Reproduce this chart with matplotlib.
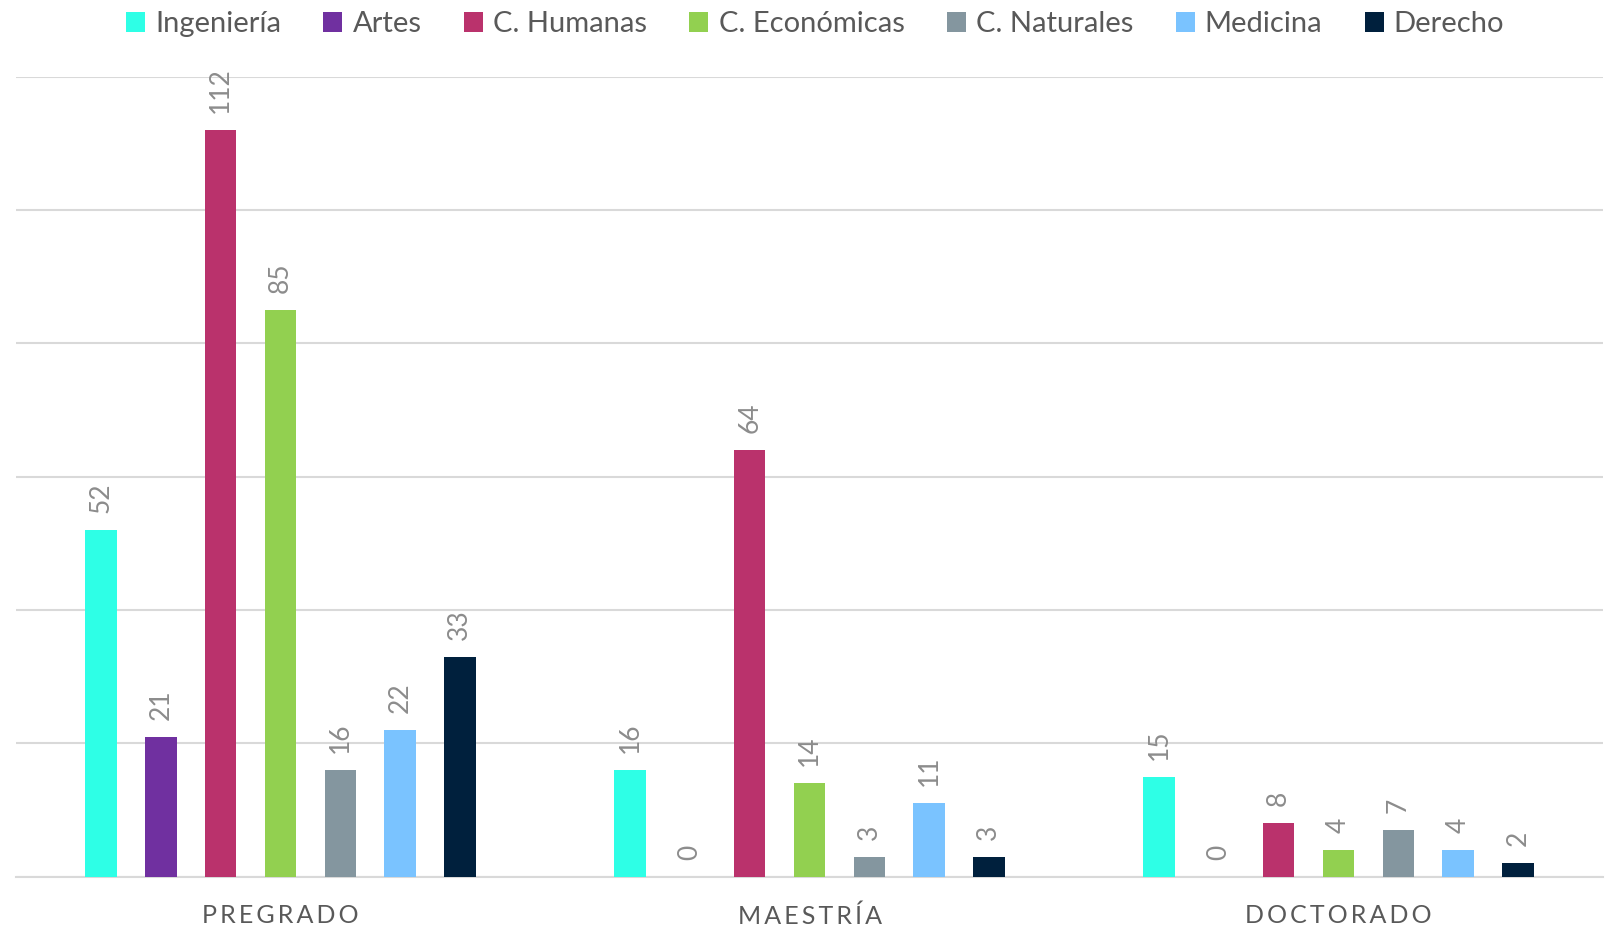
import matplotlib
matplotlib.use("Agg")
import matplotlib.pyplot as plt
from matplotlib.patches import Patch
import numpy as np

plt.rcParams['font.family'] = ['Lato', 'DejaVu Sans']

categories = ["PREGRADO", "MAESTRÍA", "DOCTORADO"]
series = ["Ingeniería", "Artes", "C. Humanas", "C. Económicas", "C. Naturales", "Medicina", "Derecho"]
ingenieria = [52, 16, 15]
artes = [21, 0, 0]
humanas = [112, 64, 8]
economicas = [85, 14, 4]
naturales = [16, 3, 7]
medicina = [22, 11, 4]
derecho = [33, 3, 2]
values = [ingenieria, artes, humanas, economicas, naturales, medicina, derecho]
colors = ["#2EFFE6", "#7030A0", "#BA326C", "#92D050", "#84969F", "#7AC3FF", "#00203D"]

W, H = 1611, 927
fig = plt.figure(figsize=(W / 100, H / 100), dpi=100)
ax = fig.add_axes([16 / W, 1 - 876.5 / H, (1603 - 16) / W, 800 / H])

x = np.arange(len(categories))
slot = 0.113
bw = 0.0596
for i, (vals, c) in enumerate(zip(values, colors)):
    pos = x + (i - 3) * slot
    bars = ax.bar(pos, vals, width=bw, color=c, zorder=3)
    for b, v in zip(bars, vals):
        ax.annotate(str(v), (b.get_x() + b.get_width() / 2, v),
                    xytext=(0, 12), textcoords='offset points',
                    rotation=90, ha='center', va='bottom',
                    fontsize=19, color='#8C8C8C')

ax.set_xlim(-0.5, 2.5)
ax.set_ylim(0, 120)
ax.set_yticks(np.arange(0, 121, 20))
ax.yaxis.grid(True, color='#D9D9D9', linewidth=1.5, zorder=0)
ax.tick_params(axis='y', left=False, labelleft=False)
ax.tick_params(axis='x', length=0, pad=20)
spaced = ["\u2009".join(c) for c in categories]
ax.set_xticks(x)
ax.set_xticklabels(spaced, fontsize=18, color='#595959')
for s in ['top', 'right', 'left']:
    ax.spines[s].set_visible(False)
ax.spines['bottom'].set_color('#D9D9D9')
ax.spines['bottom'].set_linewidth(1.5)

handles = [Patch(facecolor=c, label=s) for s, c in zip(series, colors)]
fig.legend(handles=handles, loc='center', bbox_to_anchor=(0.506, 0.974), ncol=7,
           frameon=False, fontsize=21, labelcolor='#595959',
           handlelength=0.65, handleheight=0.65, handletextpad=0.35,
           columnspacing=1.45, borderaxespad=0)

fig.savefig("out.png", dpi=100)
